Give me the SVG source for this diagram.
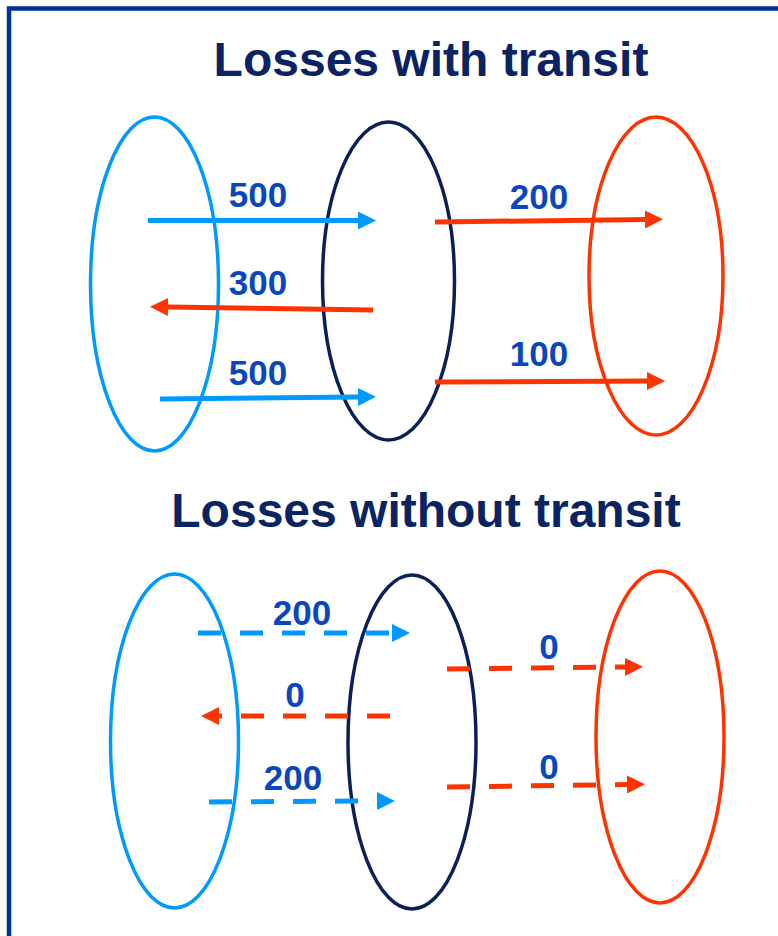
<svg xmlns="http://www.w3.org/2000/svg" width="778" height="936" viewBox="0 0 778 936">
<style>
.title{font-family:"Liberation Sans",Arial,sans-serif;font-weight:bold;font-size:48px;fill:#0A2363;text-anchor:middle}
.lbl{font-family:"Liberation Sans",Arial,sans-serif;font-weight:bold;font-size:35px;fill:#0A47BE;text-anchor:middle}
.ell{fill:none;stroke-width:3.5}
.lb{stroke:#0099FF}
.nv{stroke:#0A2158}
.rd{stroke:#FF3300}
.ar{fill:none;stroke-width:5}
.dash{stroke-dasharray:23 19}
</style>
<defs>
<marker id="hb" viewBox="0 0 18 18" refX="1" refY="9" markerWidth="18" markerHeight="18" markerUnits="userSpaceOnUse" orient="auto">
<path d="M0,0 L18,9 L0,18 z" fill="#0099FF"/>
</marker>
<marker id="hr" viewBox="0 0 18 18" refX="1" refY="9" markerWidth="18" markerHeight="18" markerUnits="userSpaceOnUse" orient="auto">
<path d="M0,0 L18,9 L0,18 z" fill="#FF3300"/>
</marker>
</defs>
<rect x="9" y="8.5" width="800" height="1000" fill="none" stroke="#003399" stroke-width="4.5"/>
<text class="title" x="431" y="76">Losses with transit</text>
<text class="title" x="426" y="527">Losses without transit</text>
<g id="top-left"><ellipse class="ell lb" cx="154.5" cy="284" rx="64" ry="167"/></g>
<g id="top-mid"><ellipse class="ell nv" cx="388.5" cy="281" rx="66" ry="159"/></g>
<g id="top-right"><ellipse class="ell rd" cx="656" cy="276" rx="67" ry="159"/></g>
<g id="bot-left"><ellipse class="ell lb" cx="174.5" cy="741" rx="64" ry="167"/></g>
<g id="bot-mid"><ellipse class="ell nv" cx="412" cy="742" rx="64" ry="167"/></g>
<g id="bot-right"><ellipse class="ell rd" cx="660" cy="737" rx="64" ry="166"/></g>
<g id="connectors">
<line class="ar lb" x1="148" y1="220.5" x2="359" y2="220.5" marker-end="url(#hb)"/>
<line class="ar rd" x1="373" y1="310" x2="167" y2="307" marker-end="url(#hr)"/>
<line class="ar lb" x1="160" y1="399" x2="359" y2="397" marker-end="url(#hb)"/>
<line class="ar rd" x1="435" y1="222" x2="646" y2="219.5" marker-end="url(#hr)"/>
<line class="ar rd" x1="435" y1="382" x2="648" y2="381" marker-end="url(#hr)"/>
<line class="ar lb dash" x1="198" y1="633" x2="393" y2="633" marker-end="url(#hb)"/>
<line class="ar rd dash" x1="390" y1="716" x2="218" y2="716" marker-end="url(#hr)"/>
<line class="ar lb dash" x1="209" y1="802" x2="378" y2="801" marker-end="url(#hb)"/>
<line class="ar rd dash" x1="447" y1="669" x2="626" y2="667" marker-end="url(#hr)"/>
<line class="ar rd dash" x1="447" y1="787" x2="628" y2="784.5" marker-end="url(#hr)"/>
</g>
<g id="labels">
<text class="lbl" x="258" y="207">500</text>
<text class="lbl" x="258" y="295">300</text>
<text class="lbl" x="258" y="385">500</text>
<text class="lbl" x="539" y="209">200</text>
<text class="lbl" x="539" y="366">100</text>
<text class="lbl" x="302" y="625">200</text>
<text class="lbl" x="295" y="707">0</text>
<text class="lbl" x="293" y="790">200</text>
<text class="lbl" x="549" y="659">0</text>
<text class="lbl" x="549" y="779">0</text>
</g>
</svg>
